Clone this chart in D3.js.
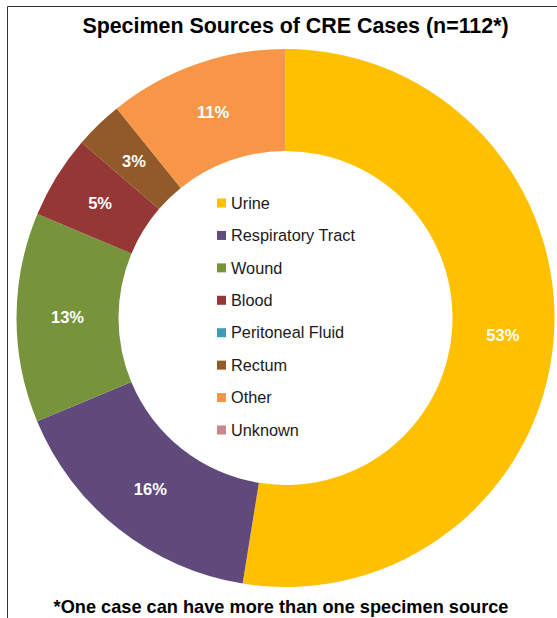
<!DOCTYPE html>
<html><head><meta charset="utf-8">
<script src="https://cdn.jsdelivr.net/npm/d3@7"></script>
<style>body{margin:0;background:#fff;}svg{display:block;font-family:"Liberation Sans",Arial,sans-serif;}</style>
</head><body>
<svg id="c" width="557" height="618"></svg>
<script>
const categories = ["Urine","Respiratory Tract","Wound","Blood","Peritoneal Fluid","Rectum","Other","Unknown"];
const values = [52.6, 16.2, 12.6, 5.0, 0, 2.9, 10.8, 0];
const colors = ["#FFC000","#604A7B","#77933C","#953735","#3E9BB6","#92592B","#F79646","#C8878E"];
const title = "Specimen Sources of CRE Cases (n=112*)";
const footnote = "*One case can have more than one specimen source";

const svg = d3.select("#c");
// frame
svg.append("path").attr("d","M7.5,618 V6.5 H557").attr("fill","none").attr("stroke","#333").attr("stroke-width",1);

svg.append("text").attr("x",295.5).attr("y",33).attr("text-anchor","middle")
  .attr("font-size",21.4).attr("font-weight","bold").attr("fill","#000").text(title);
svg.append("text").attr("x",281).attr("y",613).attr("text-anchor","middle")
  .attr("font-size",18.2).attr("font-weight","bold").attr("fill","#000").text(footnote);

const cx = 285.5, cy = 318, R = 269, r = 167;
const total = d3.sum(values);
const data = categories.map((c,i)=>({cat:c, value:values[i], color:colors[i]}));
const pie = d3.pie().value(d=>d.value).sort(null);
const arc = d3.arc().innerRadius(r).outerRadius(R);
const g = svg.append("g").attr("transform",`translate(${cx},${cy})`);
const arcs = pie(data);
g.selectAll("path.s").data(arcs).join("path").attr("class","s")
  .attr("d",arc).attr("fill",d=>d.data.color);
g.selectAll("text.l").data(arcs.filter(d=>d.data.value>0)).join("text").attr("class","l")
  .attr("transform",d=>`translate(${arc.centroid(d)})`)
  .attr("text-anchor","middle").attr("dy","0.35em")
  .attr("fill","#fff").attr("font-weight","bold").attr("font-size",16.5)
  .text(d=>Math.round(d.data.value/total*100)+"%");

// legend
const ly = d3.scaleLinear().domain([0,categories.length-1]).range([203,430]);
const lg = svg.append("g");
data.forEach((d,i)=>{
  lg.append("rect").attr("x",217).attr("y",ly(i)-4.5).attr("width",9).attr("height",9).attr("fill",d.color);
  lg.append("text").attr("x",231).attr("y",ly(i)).attr("dy","0.35em").attr("font-size",16.3).attr("fill","#1a1a1a").text(d.cat);
});
</script>
</body></html>
